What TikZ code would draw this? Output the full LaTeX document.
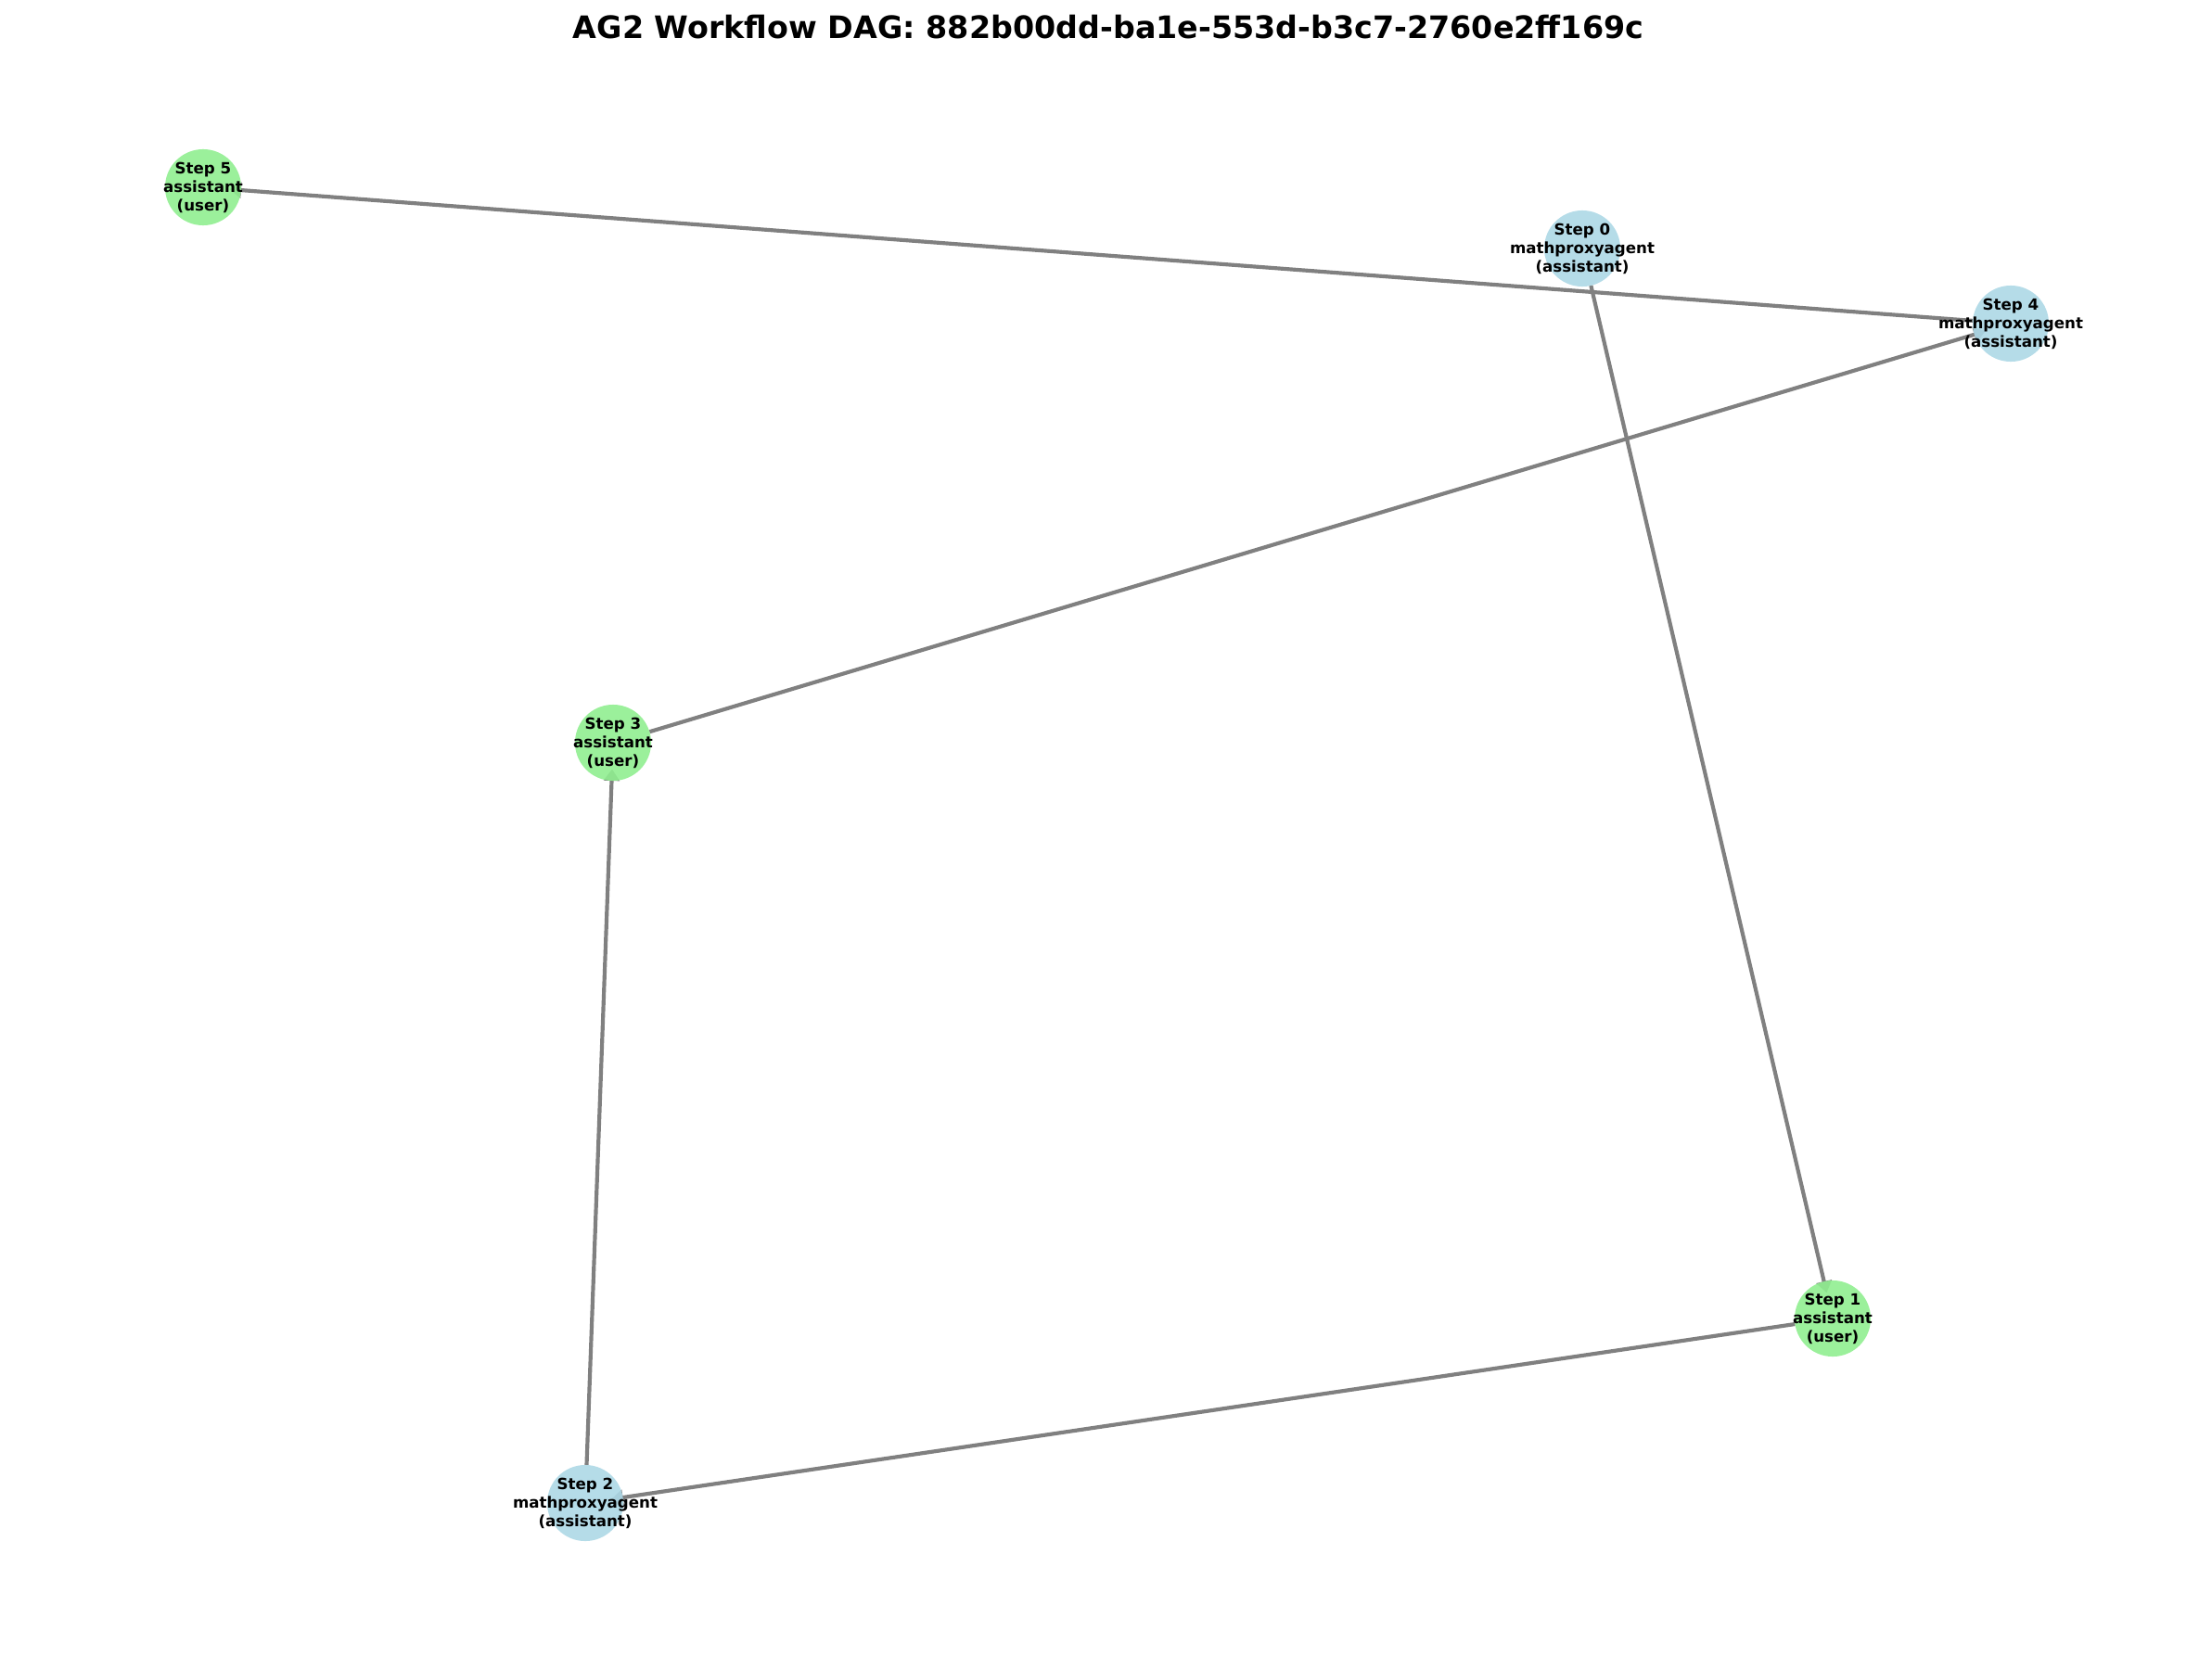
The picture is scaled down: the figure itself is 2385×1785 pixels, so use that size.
\documentclass[tikz,border=0pt]{standalone}
\usepackage{fontspec}
\setmainfont{DejaVu Sans}
\usetikzlibrary{arrows.meta}
\pgfdeclarelayer{bg}
\pgfsetlayers{bg,main}
\definecolor{nblue}{HTML}{ADD8E6}
\definecolor{ngreen}{HTML}{90EE90}
\definecolor{egray}{HTML}{808080}
\begin{document}
\begin{tikzpicture}[x=0.48pt,y=-0.48pt,
  stepnode/.style={circle,minimum size=39.4pt,inner sep=0pt,outer sep=0pt,fill opacity=0.9,draw=none},
  bluenode/.style={stepnode,fill=nblue},
  greennode/.style={stepnode,fill=ngreen},
  lbl/.style={font=\fontsize{8}{9.6}\selectfont\bfseries,align=center,inner sep=0pt},
  edge/.style={draw=egray,line width=2pt,-{Triangle[length=6pt,width=8pt]},shorten >=-6pt},
  titlestyle/.style={font=\fontsize{16}{19.2}\selectfont\bfseries,anchor=base,inner sep=0pt}]
\useasboundingbox (0,0) rectangle (2385,1785);
\node[titlestyle] (title) at (1195,42) {AG2 Workflow DAG: 882b00dd-ba1e-553d-b3c7-2760e2ff169c};
\node[bluenode]  (s0) at (1706,268) {};
\node[greennode] (s1) at (1976,1422) {};
\node[bluenode]  (s2) at (631,1621) {};
\node[greennode] (s3) at (661,801) {};
\node[bluenode]  (s4) at (2168,349) {};
\node[greennode] (s5) at (219,202) {};
\node[lbl] (l0) at (s0) {Step 0\\mathproxyagent\\(assistant)};
\node[lbl] (l1) at (s1) {Step 1\\assistant\\(user)};
\node[lbl] (l2) at (s2) {Step 2\\mathproxyagent\\(assistant)};
\node[lbl] (l3) at (s3) {Step 3\\assistant\\(user)};
\node[lbl] (l4) at (s4) {Step 4\\mathproxyagent\\(assistant)};
\node[lbl] (l5) at (s5) {Step 5\\assistant\\(user)};
\begin{pgfonlayer}{bg}
\draw[edge] (s0) -- (s1);
\draw[edge] (s1) -- (s2);
\draw[edge] (s2) -- (s3);
\draw[edge] (s3) -- (s4);
\draw[edge] (s4) -- (s5);
\end{pgfonlayer}
\end{tikzpicture}
\end{document}
